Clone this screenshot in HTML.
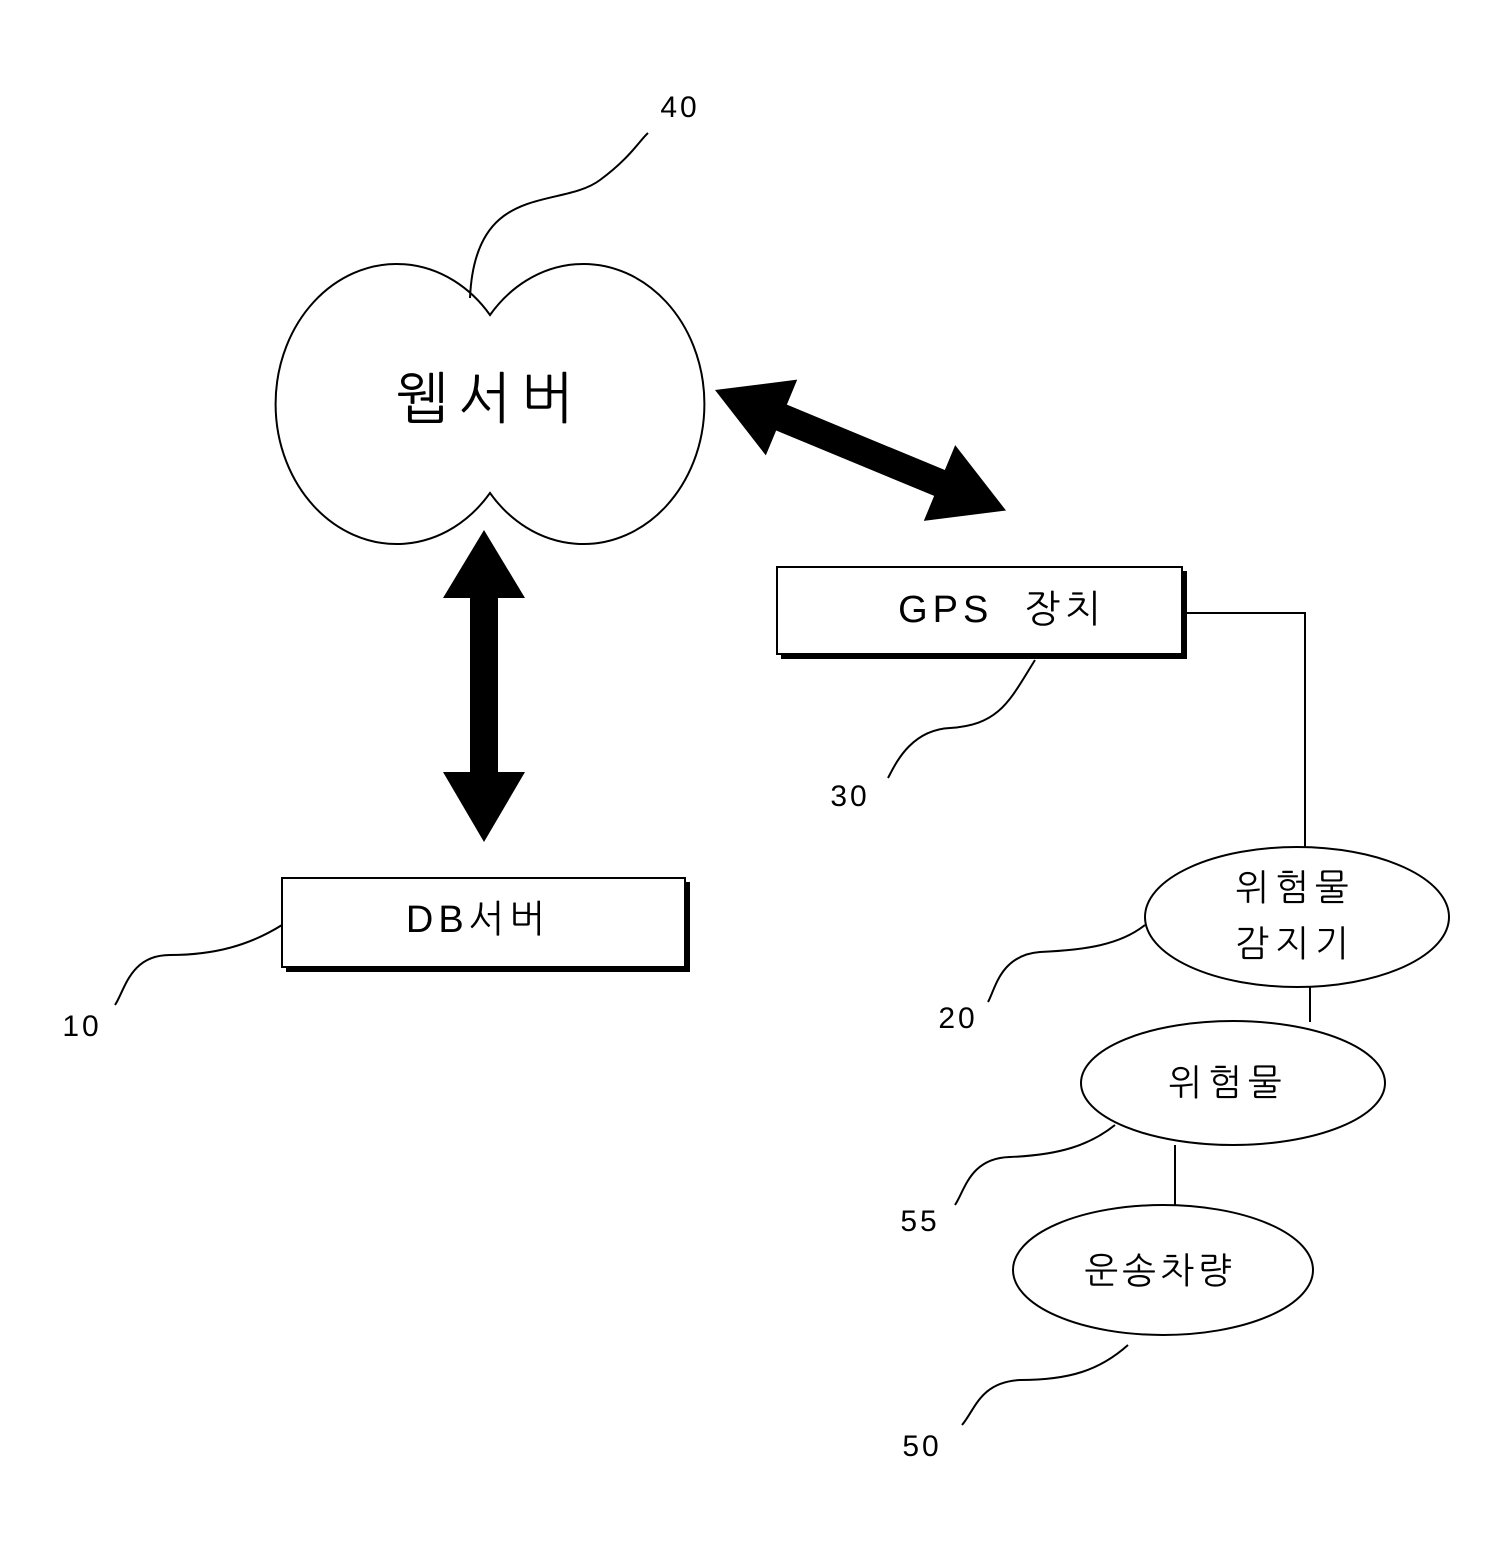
<!DOCTYPE html>
<html><head><meta charset="utf-8"><style>
html,body{margin:0;padding:0;background:#fff;}
svg{display:block;}
text{font-family:"Liberation Sans","NanumGothic","Noto Sans CJK KR",sans-serif;fill:#000;}
</style></head><body>
<svg width="1506" height="1553" viewBox="0 0 1506 1553" xmlns="http://www.w3.org/2000/svg">
<g fill="none" stroke="#000" stroke-width="2">
<path d="M490,315 A121,140 0 1,0 490,493 A121,140 0 1,0 490,315 Z" fill="#fff"/>
<path d="M470,298 C475,180 560,210 600,180 C630,158 640,140 648,133"/>
<path d="M1035,660 C1010,700 1000,725 950,728 C910,730 895,765 888,778"/>
<path d="M282,925 C250,945 215,955 170,955 C130,955 125,990 115,1005"/>
<path d="M1145,925 C1120,945 1085,950 1040,952 C1000,955 995,990 988,1002"/>
<path d="M1115,1125 C1090,1145 1060,1155 1010,1157 C970,1158 965,1190 955,1205"/>
<path d="M1128,1345 C1100,1370 1070,1380 1020,1380 C980,1382 975,1410 962,1425"/>
<polyline points="1183,613 1305,613 1305,848"/>
<line x1="1310" y1="986" x2="1310" y2="1022"/>
<line x1="1175" y1="1145" x2="1175" y2="1205"/>
<ellipse cx="1297" cy="917" rx="152" ry="70" fill="#fff"/>
<ellipse cx="1233" cy="1083" rx="152" ry="62" fill="#fff"/>
<ellipse cx="1163" cy="1270" rx="150" ry="65" fill="#fff"/>
</g>
<rect x="781" y="571" width="406" height="88" fill="#000"/>
<rect x="777" y="567" width="405" height="87" fill="#fff" stroke="#000" stroke-width="2"/>
<rect x="286" y="882" width="404" height="90" fill="#000"/>
<rect x="282" y="878" width="403" height="89" fill="#fff" stroke="#000" stroke-width="2"/>
<polygon points="484,530 525,598 498,598 498,772 525,772 484,842 443,772 470,772 470,598 443,598" fill="#000"/>
<g transform="translate(715,390) rotate(22.5)">
<polygon points="0,0 72,-41 72,-14 243,-14 243,-41 315,0 243,41 243,14 72,14 72,41" fill="#000"/>
</g>
<text x="490" y="418" font-size="56" text-anchor="middle" letter-spacing="10" font-weight="300">웹서버</text>
<text x="1002" y="622" font-size="38" text-anchor="middle" letter-spacing="5" xml:space="preserve">GPS  장치</text>
<text x="478" y="932" font-size="38" text-anchor="middle" letter-spacing="5">DB서버</text>
<text x="1295" y="900" font-size="36" text-anchor="middle" letter-spacing="6">위험물</text>
<text x="1295" y="956" font-size="36" text-anchor="middle" letter-spacing="6">감지기</text>
<text x="1228" y="1095" font-size="36" text-anchor="middle" letter-spacing="6">위험물</text>
<text x="1160" y="1283" font-size="36" text-anchor="middle" letter-spacing="4">운송차량</text>
<text x="680" y="117" font-size="30" text-anchor="middle" letter-spacing="3">40</text>
<text x="850" y="806" font-size="30" text-anchor="middle" letter-spacing="3">30</text>
<text x="82" y="1036" font-size="30" text-anchor="middle" letter-spacing="3">10</text>
<text x="958" y="1028" font-size="30" text-anchor="middle" letter-spacing="3">20</text>
<text x="920" y="1231" font-size="30" text-anchor="middle" letter-spacing="3">55</text>
<text x="922" y="1456" font-size="30" text-anchor="middle" letter-spacing="3">50</text>
</svg>
</body></html>
